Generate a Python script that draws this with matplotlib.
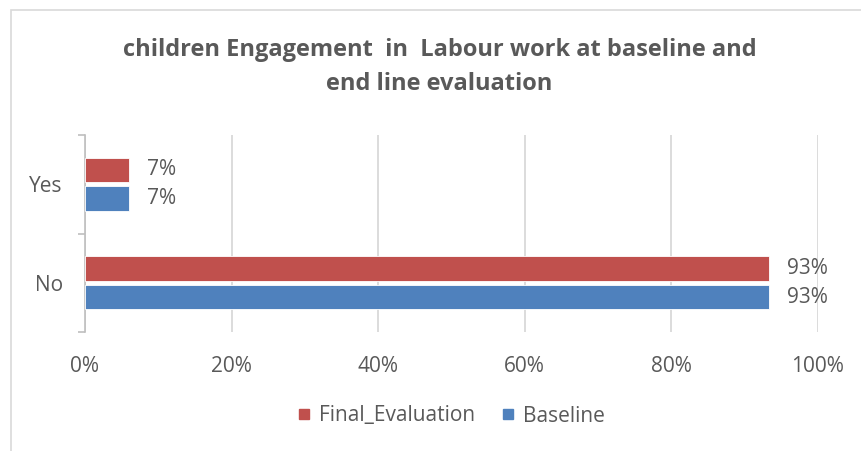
import matplotlib.pyplot as plt
from matplotlib.patches import Rectangle
from matplotlib.lines import Line2D

# data
categories = ["No", "Yes"]
final_eval = [93.3, 6.0]
baseline = [93.3, 6.0]
final_labels = ["93%", "7%"]
baseline_labels = ["93%", "7%"]
series_names = ["Final_Evaluation", "Baseline"]

red = "#C0504D"
blue = "#4F81BD"
grey_txt = "#595959"
grid_col = "#D9D9D9"

plt.rcParams['font.family'] = ['Open Sans', 'DejaVu Sans']
fs = 15

fig = plt.figure(figsize=(8.62, 4.51), dpi=100)
# outer chart border
fig.patches.append(Rectangle((11 / 862, -0.1), 1.2, 1 - 10 / 451 + 0.1,
                             transform=fig.transFigure, fill=False,
                             edgecolor="#D9D9D9", linewidth=1.2))

ax = fig.add_axes([85 / 862, 1 - 332 / 451, (818 - 85) / 862, (332 - 135) / 451])

y = list(range(len(categories)))
h = 0.245
off = 0.145
ax.barh([v + off for v in y], final_eval, height=h, color=red,
        edgecolor="white", linewidth=0.6, zorder=3)
ax.barh([v - off for v in y], baseline, height=h, color=blue,
        edgecolor="white", linewidth=0.6, zorder=3)

for i in y:
    ax.annotate(final_labels[i], (final_eval[i], i + off), xytext=(13, 0),
                textcoords="offset points", va="center", ha="left",
                fontsize=fs, color=grey_txt)
    ax.annotate(baseline_labels[i], (baseline[i], i - off), xytext=(13, 0),
                textcoords="offset points", va="center", ha="left",
                fontsize=fs, color=grey_txt)

ax.set_xlim(0, 100)
ax.set_ylim(-0.5, 1.5)
ax.set_xticks([0, 20, 40, 60, 80, 100])
ax.set_xticklabels(["0%", "20%", "40%", "60%", "80%", "100%"])
ax.tick_params(axis="x", length=0, pad=17, labelsize=fs, labelcolor=grey_txt)
ax.grid(axis="x", color=grid_col, linewidth=1.3, zorder=0)

ax.set_yticks([-0.5, 0.5, 1.5])
ax.set_yticklabels([])
ax.set_yticks(y, minor=True)
ax.set_yticklabels(categories, minor=True)
ax.tick_params(axis="y", which="major", length=5, color="#BFBFBF", width=1.2)
ax.tick_params(axis="y", which="minor", length=0, pad=16, labelsize=fs,
               labelcolor=grey_txt)

for s in ["top", "right", "bottom"]:
    ax.spines[s].set_visible(False)
ax.spines["left"].set_color("#BFBFBF")
ax.spines["left"].set_linewidth(1.2)

fig.text(0.510, 1 - 67 / 451,
         "children Engagement  in  Labour work at baseline and\nend line evaluation",
         ha="center", va="center", fontsize=17, fontweight="bold",
         color=grey_txt, linespacing=1.6)

handles = [Line2D([], [], marker="s", linestyle="", color=red, markersize=7),
           Line2D([], [], marker="s", linestyle="", color=blue, markersize=7)]
fig.legend(handles, series_names, loc="center", bbox_to_anchor=(0.521, 1 - 416 / 451),
           ncol=2, frameon=False, fontsize=fs, labelcolor=grey_txt,
           handletextpad=0.2, columnspacing=1.1, handlelength=1.0)

fig.savefig("out.png", dpi=100)
